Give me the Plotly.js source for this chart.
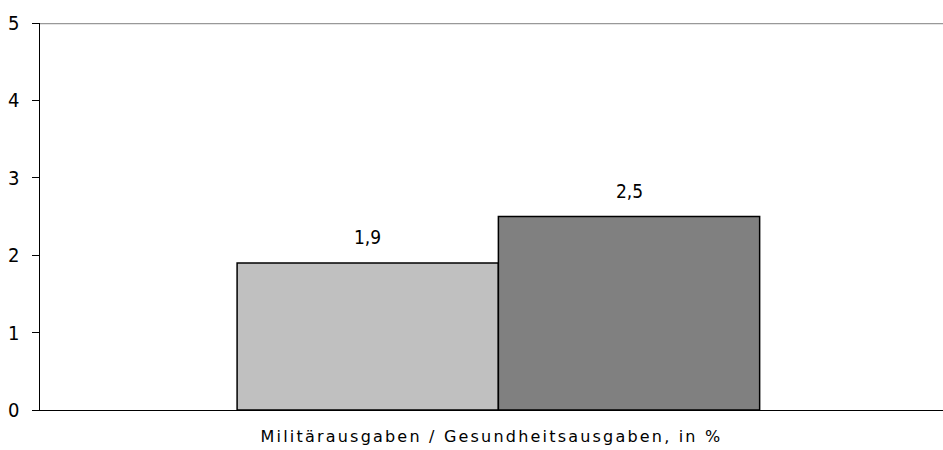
<!DOCTYPE html>
<html><head><meta charset="utf-8">
<script src="https://cdn.plot.ly/plotly-3.0.1.min.js"></script>
<style>
body{margin:0;}
.xtitle{letter-spacing:2.2px;}
</style>
</head><body>
<div id="chart" style="width:943px;height:450px;"></div>
<script>
const category = ["Militärausgaben / Gesundheitsausgaben, in %"];
const seriesNames = ["A", "B"];
const seriesValues = [1.9, 2.5];
const seriesColors = ["#c0c0c0", "#808080"];
const labelShift = [-131, 131];
const narrow = "DejaVu Sans Condensed, Liberation Sans Narrow, Liberation Sans, Arial";

const traces = seriesValues.map((v, i) => ({
  type: "bar",
  name: seriesNames[i],
  x: [category[0]],
  y: [v],
  marker: {color: seriesColors[i], line: {color: "#000", width: 1.5}},
  hoverinfo: "skip"
}));

const annotations = seriesValues.map((v, i) => ({
  x: category[0], y: v, xref: "x", yref: "y",
  text: v.toFixed(1).replace(".", ","),
  showarrow: false, xshift: labelShift[i], yshift: 26,
  font: {family: narrow, size: 19, color: "#000"}
}));

const layout = {
  width: 943, height: 450,
  margin: {l: 40, r: 0, t: 23, b: 40},
  showlegend: false,
  barmode: "group",
  bargap: 0.43,
  bargroupgap: 0,
  separators: ", ",
  paper_bgcolor: "#fff", plot_bgcolor: "#fff",
  font: {family: narrow, color: "#000"},
  xaxis: {
    type: "category",
    range: [-0.5, 0.485],
    showticklabels: false,
    ticks: "",
    showline: true, linecolor: "#000", linewidth: 1,
    showgrid: false, zeroline: false,
    title: {text: category[0], standoff: 20, font: {family: "DejaVu Sans, Liberation Sans", size: 16, color: "#000"}}
  },
  yaxis: {
    range: [0, 5],
    tickvals: [0, 1, 2, 3, 4, 5],
    ticks: "outside", ticklen: 7, tickcolor: "#000", tickwidth: 1,
    ticklabelstandoff: 8,
    showline: true, linecolor: "#000", linewidth: 1.5,
    showgrid: false, zeroline: false,
    tickfont: {family: narrow, size: 20, color: "#000"}
  },
  shapes: [{type: "line", xref: "paper", yref: "y", x0: 0, x1: 1, y0: 5, y1: 5,
            line: {color: "#999999", width: 2.5}}],
  annotations: annotations
};

Plotly.newPlot("chart", traces, layout, {displayModeBar: false, staticPlot: true});
</script>
</body></html>
